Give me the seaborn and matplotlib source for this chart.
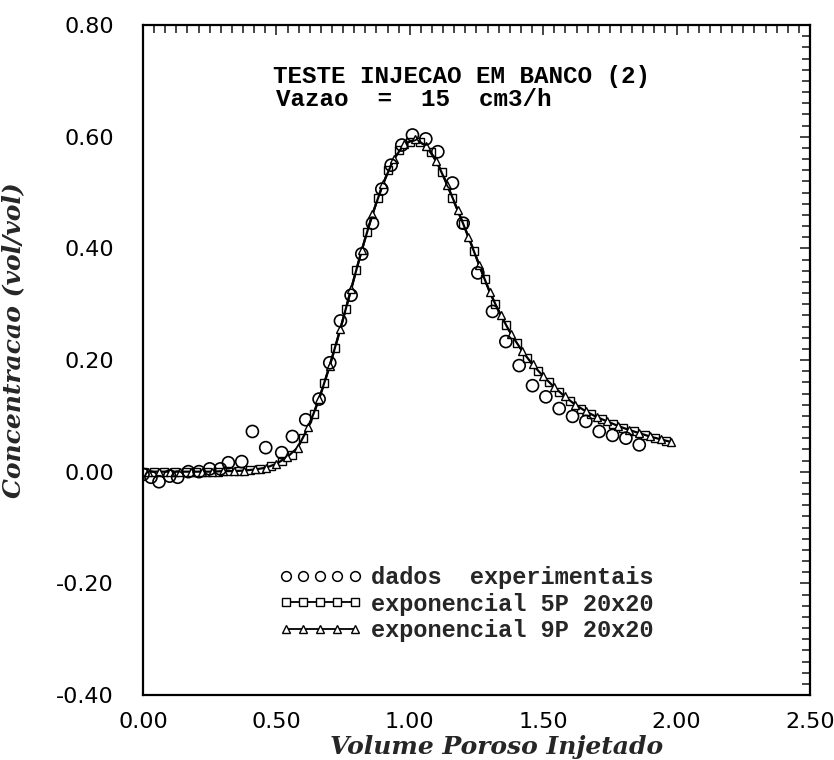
import matplotlib
matplotlib.use("Agg")
import matplotlib.pyplot as plt
from matplotlib.lines import Line2D
from matplotlib.ticker import MultipleLocator, FormatStrFormatter
import seaborn as sns

# ---------------- data ----------------
exp_x = [0.00, 0.03, 0.06, 0.10, 0.13, 0.17, 0.21, 0.25, 0.29, 0.32, 0.37,
         0.41, 0.46, 0.52, 0.56, 0.61, 0.66, 0.70, 0.74, 0.78, 0.82, 0.86,
         0.895, 0.93, 0.97, 1.01, 1.06, 1.105, 1.16, 1.20, 1.255, 1.31, 1.36,
         1.41, 1.46, 1.51, 1.56, 1.61, 1.66, 1.71, 1.76, 1.81, 1.86]
exp_y = [-0.005, -0.010, -0.018, -0.008, -0.010, 0.000, 0.000, 0.005, 0.005,
         0.016, 0.018, 0.072, 0.043, 0.034, 0.063, 0.093, 0.130, 0.195, 0.270,
         0.316, 0.390, 0.445, 0.506, 0.549, 0.585, 0.603, 0.596, 0.573, 0.517,
         0.445, 0.356, 0.287, 0.233, 0.190, 0.154, 0.134, 0.113, 0.099, 0.090,
         0.072, 0.065, 0.060, 0.048]

p5_x = [0.00, 0.04, 0.08, 0.12, 0.16, 0.20, 0.24, 0.28, 0.32, 0.36, 0.40,
        0.44, 0.48, 0.52, 0.56, 0.60, 0.64, 0.68, 0.72, 0.76, 0.80, 0.84,
        0.88, 0.92, 0.96, 1.00, 1.04, 1.08, 1.12, 1.16, 1.20, 1.24, 1.28,
        1.32, 1.36, 1.40, 1.44, 1.48, 1.52, 1.56, 1.60, 1.64, 1.68, 1.72,
        1.76, 1.80, 1.84, 1.88, 1.92, 1.96]
p5_y = [0.000, 0.000, 0.000, 0.000, 0.000, 0.000, 0.000, 0.000, 0.001, 0.002,
        0.003, 0.005, 0.010, 0.019, 0.030, 0.060, 0.104, 0.159, 0.222, 0.291,
        0.362, 0.430, 0.490, 0.540, 0.576, 0.591, 0.590, 0.572, 0.537, 0.490,
        0.444, 0.396, 0.345, 0.300, 0.263, 0.231, 0.204, 0.181, 0.161, 0.143,
        0.127, 0.113, 0.103, 0.094, 0.086, 0.078, 0.072, 0.066, 0.060, 0.055]

p9_x = [0.02, 0.06, 0.10, 0.14, 0.18, 0.22, 0.26, 0.30, 0.34, 0.38, 0.42,
        0.46, 0.50, 0.54, 0.58, 0.62, 0.66, 0.70, 0.74, 0.78, 0.82, 0.86,
        0.90, 0.94, 0.98, 1.02, 1.06, 1.10, 1.14, 1.18, 1.22, 1.26, 1.30,
        1.34, 1.38, 1.42, 1.46, 1.50, 1.54, 1.58, 1.62, 1.66, 1.70, 1.74,
        1.78, 1.82, 1.86, 1.90, 1.94, 1.98]
p9_y = [0.000, 0.000, 0.000, 0.000, 0.000, 0.000, 0.000, 0.001, 0.001, 0.002,
        0.004, 0.007, 0.014, 0.026, 0.043, 0.080, 0.130, 0.190, 0.256, 0.327,
        0.397, 0.461, 0.516, 0.560, 0.587, 0.595, 0.584, 0.556, 0.514, 0.468,
        0.420, 0.370, 0.321, 0.281, 0.246, 0.217, 0.192, 0.171, 0.152, 0.135,
        0.120, 0.108, 0.098, 0.090, 0.082, 0.075, 0.069, 0.063, 0.058, 0.053]

title_lines = ["TESTE INJECAO EM BANCO (2)", "Vazao  =  15  cm3/h"]
legend_labels = ["dados  experimentais", "exponencial 5P 20x20",
                 "exponencial 9P 20x20"]
x_label = "Volume Poroso Injetado"
y_label = "Concentracao (vol/vol)"

# ---------------- figure ----------------
sns.set_theme(style="white")
plt.rcParams["font.family"] = ["DejaVu Sans"]

W, H = 834, 760
fig = plt.figure(figsize=(W / 100, H / 100), dpi=100)
L, R, T, B = 143, 810, 25, 695
ax = fig.add_axes([L / W, 1 - B / H, (R - L) / W, (B - T) / H])
ax.set_facecolor("white")

sns.lineplot(x=p5_x, y=p5_y, ax=ax, color="black", lw=1.6, sort=False,
             estimator=None, marker="s", markersize=5.5,
             markerfacecolor="white", markeredgecolor="black",
             markeredgewidth=1.0, zorder=2)
sns.lineplot(x=p9_x, y=p9_y, ax=ax, color="black", lw=1.6, sort=False,
             estimator=None, marker="^", markersize=6,
             markerfacecolor="white", markeredgecolor="black",
             markeredgewidth=1.0, zorder=2)
sns.scatterplot(x=exp_x, y=exp_y, ax=ax, marker="o", s=75,
                facecolors="none", edgecolor="black", linewidth=1.2,
                zorder=3)

ax.set_xlim(0, 2.5)
ax.set_ylim(-0.4, 0.8)
ax.xaxis.set_major_locator(MultipleLocator(0.5))
ax.xaxis.set_minor_locator(MultipleLocator(0.5 / 12))
ax.yaxis.set_major_locator(MultipleLocator(0.2))
ax.yaxis.set_minor_locator(MultipleLocator(0.02))
ax.xaxis.set_major_formatter(FormatStrFormatter("%.2f"))
ax.yaxis.set_major_formatter(FormatStrFormatter("%.2f"))
ax.tick_params(which="both", direction="out", color="black", width=1.2,
               labelsize=16, labelcolor="black")
ax.tick_params(which="major", length=8)
ax.tick_params(which="minor", length=5.5)
ax.tick_params(axis="x", which="major", pad=4)
ax.tick_params(axis="y", which="major", pad=13)
for s in ax.spines.values():
    s.set_visible(True)
    s.set_color("black")
    s.set_linewidth(1.6)

# inward ticks on top and right
secx = ax.secondary_xaxis("top")
secx.xaxis.set_major_locator(MultipleLocator(0.5))
secx.xaxis.set_minor_locator(MultipleLocator(0.5 / 12))
secx.tick_params(which="both", direction="in", width=1.2, labeltop=False)
secx.tick_params(which="major", length=7)
secx.tick_params(which="minor", length=5.5)
secy = ax.secondary_yaxis("right")
secy.yaxis.set_major_locator(MultipleLocator(0.2))
secy.yaxis.set_minor_locator(MultipleLocator(0.02))
secy.tick_params(which="both", direction="in", width=1.2, labelright=False)
secy.tick_params(which="major", length=7)
secy.tick_params(which="minor", length=5.5)

lab_font = dict(family="DejaVu Serif", weight="bold", style="italic", size=18)
ax.set_xlabel(x_label, fontdict=lab_font)
ax.xaxis.set_label_coords((497 - L) / (R - L), -(747 - B) / (B - T), transform=ax.transAxes)
ax.xaxis.label.set_va("center")
ax.set_ylabel(y_label, fontdict=lab_font)
ax.yaxis.set_label_coords((25 - L) / (R - L), 0.53)

tfont = dict(family="Liberation Mono", weight="bold", size=17.5, color="black")
fig.text(273 / W, 1 - 76 / H, title_lines[0], ha="left", va="center", **tfont)
fig.text(276 / W, 1 - 100 / H, title_lines[1], ha="left", va="center", **tfont)

handles = [
    Line2D([], [], ls="none", marker="o", ms=7, mfc="none", mec="black", mew=1.1),
    Line2D([], [], ls="-", color="black", lw=1.3, marker="s", ms=5.5, mfc="white", mec="black", mew=1.0),
    Line2D([], [], ls="-", color="black", lw=1.3, marker="^", ms=6, mfc="white", mec="black", mew=1.0),
]
ax.legend(handles, legend_labels, loc="upper left",
          bbox_to_anchor=(279 / W, 1 - 566 / H), bbox_transform=fig.transFigure,
          frameon=False, numpoints=5, handlelength=3.5, handletextpad=0.4,
          labelspacing=0.15, borderpad=0, borderaxespad=0,
          prop=dict(family="Liberation Mono", weight="bold", size=17))

fig.savefig("out.png", dpi=100, facecolor="white")
